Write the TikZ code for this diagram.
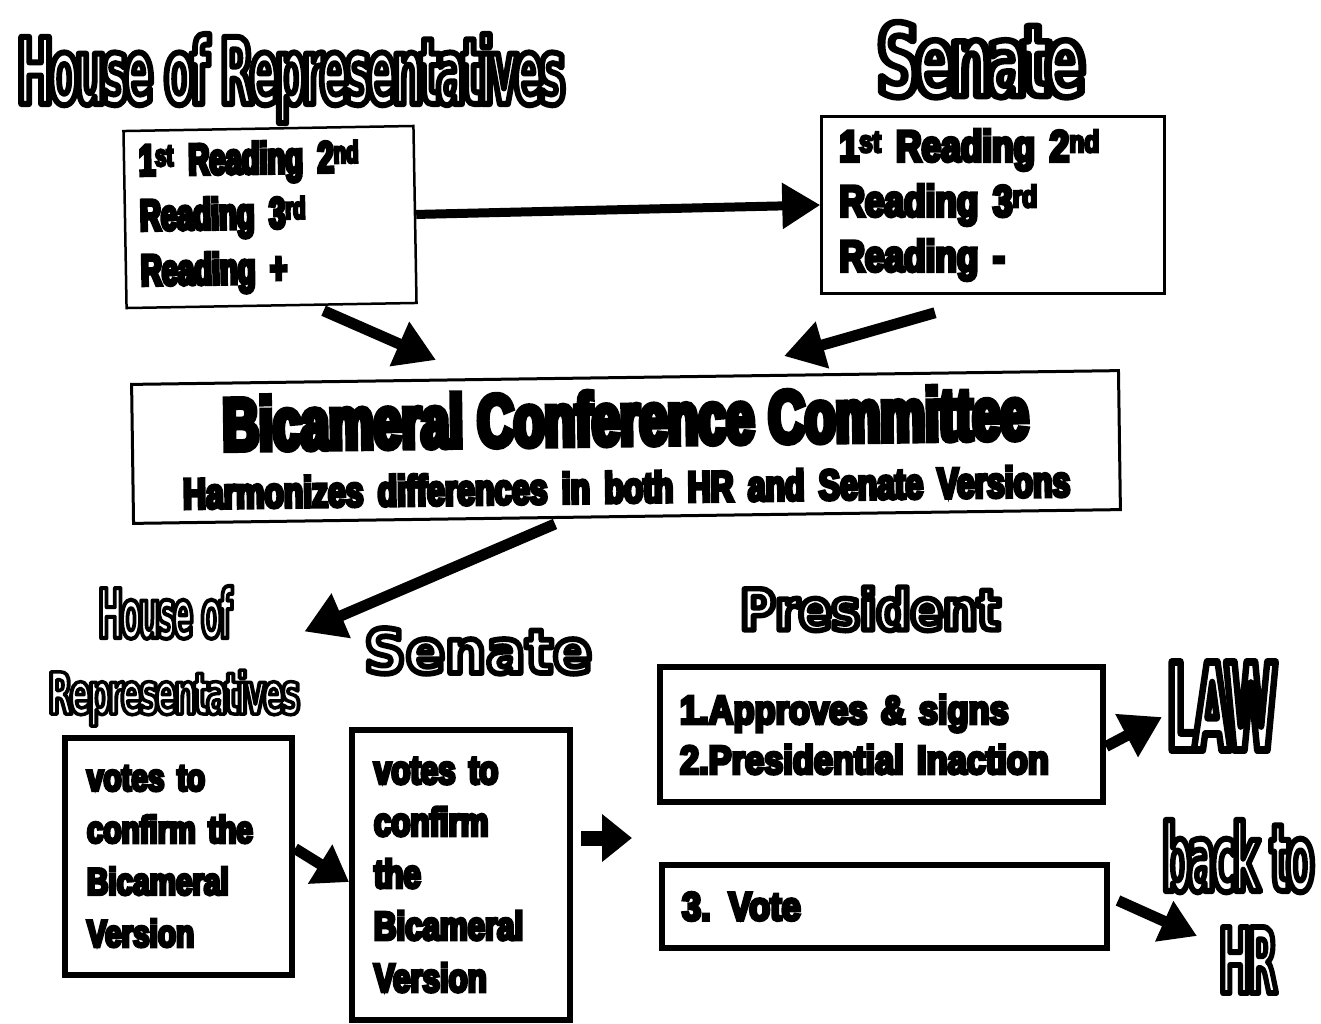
\documentclass[tikz,border=0pt]{standalone}
\usepackage{fontspec}
\setmainfont{Liberation Sans}
\usetikzlibrary{arrows.meta,calc}
\newfontfamily\fimp[FakeStretch=0.48,LetterSpace=-4,FakeBold=6.5]{DejaVu Sans}
\newfontfamily\fimpS[FakeStretch=0.48,LetterSpace=-4,FakeBold=6]{DejaVu Sans}
\newfontfamily\fpr[FakeStretch=0.75,FakeBold=9.5]{DejaVu Sans}
\newfontfamily\fwd[FakeBold=9.5]{DejaVu Sans}
\newfontfamily\ftop[FakeStretch=0.8,FakeBold=8]{Liberation Sans}
\newfontfamily\ftopB[FakeStretch=0.66,FakeBold=8]{Liberation Sans}
\newfontfamily\fbA[FakeStretch=0.68,FakeBold=8]{Liberation Sans}
\newfontfamily\fbB[FakeStretch=0.74,FakeBold=8]{Liberation Sans}
\newfontfamily\fbot[FakeStretch=0.78,FakeBold=8]{Liberation Sans}
\newfontfamily\fpres[FakeStretch=0.86,FakeBold=8]{Liberation Sans}
% outlined heading: width, height, natural size, text
\newcommand\outl[4]{\resizebox{#1}{#2}{\fontsize{#3}{#3}\selectfont\color{white}\special{pdf:literal direct 0 G 1 j}#4}}
\begin{document}
\begin{tikzpicture}[x=1pt,y=-1pt,
  every node/.style={inner sep=0pt},
  tbox/.style={draw, line width=2.5pt, fill=white, align=left, inner xsep=15pt},
  bbox/.style={draw, line width=6pt, fill=white, align=left, inner xsep=22pt},
  arr/.style={line width=11pt, -{Triangle[length=40pt,width=46pt]}},
  hd/.style={anchor=base west, inner sep=0pt},
]
\fill[white] (0,0) rectangle (1321,1023);
\useasboundingbox (0,0) rectangle (1321,1023);

% headings
\node[hd, font=\fimp\bfseries] (hrT) at (17,104) {\outl{548pt}{70pt}{96}{House of Representatives}};
\node[hd, font=\fimp\bfseries] (senT) at (877,96) {\outl{208pt}{74pt}{99}{Senate}};
\node[hd, font=\fimpS\bfseries] (hrA) at (98,638) {\outl{134pt}{52pt}{72}{House of}};
\node[hd, font=\fimpS\bfseries] (hrB) at (48,714) {\outl{252pt}{44pt}{60}{Representatives}};
\node[hd, font=\fwd\bfseries] (senB) at (364,673) {\outl{228pt}{45pt}{62}{Senate}};
\node[hd, font=\fpr\bfseries] (presT) at (740,630) {\outl{260pt}{43pt}{59}{President}};
\node[hd, font=\fimp\bfseries] (lawT) at (1167,750) {\outl{110pt}{88pt}{121}{LAW}};
\node[hd, font=\fimp\bfseries] (backT) at (1162,891) {\outl{152pt}{71pt}{94}{back to}};
\node[hd, font=\fimp\bfseries] (hrT2) at (1219,993) {\outl{58pt}{66pt}{91}{HR}};

% boxes
\node[tbox, rotate=1, minimum width=290pt, minimum height=177pt, text width=260pt,
  font={\ftopB\bfseries\fontsize{44}{55}\selectfont}] (hr1) at (270,217)
  {1\textsuperscript{st} Reading 2\textsuperscript{nd}\\Reading 3\textsuperscript{rd}\\Reading +};
\node[tbox, inner xsep=18pt, minimum width=343pt, minimum height=177pt, text width=307pt,
  font={\ftop\bfseries\fontsize{44}{55}\selectfont}] (sen1) at (993,205)
  {1\textsuperscript{st} Reading 2\textsuperscript{nd}\\Reading 3\textsuperscript{rd}\\Reading -};
\node[draw, line width=3pt, fill=white, rotate=0.8, minimum width=987pt, minimum height=139pt,
  text width=950pt, align=center, inner xsep=18pt,
  font={\fbB\bfseries\fontsize{43}{58}\selectfont}] (bcc) at (626,447)
  {{\fbA\bfseries\fontsize{74}{74}\selectfont Bicameral Conference Committee}\\
   Harmonizes differences in both HR and Senate Versions};
\node[bbox, minimum width=227pt, minimum height=237pt, text width=183pt,
  font={\fbot\bfseries\fontsize{38}{52}\selectfont}] (hr2) at (178.5,856.5)
  {votes to\\confirm the\\Bicameral\\Version};
\node[bbox, minimum width=218pt, minimum height=290pt, text width=174pt,
  font={\fbot\bfseries\fontsize{40}{52}\selectfont}] (sen2) at (461,875)
  {votes to\\confirm\\the\\Bicameral\\Version};
\node[bbox, inner xsep=20pt, minimum width=443pt, minimum height=135pt, text width=403pt,
  font={\fpres\bfseries\fontsize{40}{50}\selectfont}] (pres1) at (881.5,734.5)
  {1.Approves \& signs\\2.Presidential Inaction};
\node[bbox, inner xsep=20pt, minimum width=445pt, minimum height=83pt, text width=405pt,
  font={\fpres\bfseries\fontsize{40}{50}\selectfont}] (pres2) at (884.5,906.5)
  {3.\hspace{18pt}Vote};

% arrows
\draw[arr, line width=9pt, -{Triangle[length=38pt,width=44pt]}] (hr1.east) -- (sen1.west);
\draw[arr] ($(hr1.south)+(52,4)$) -- ($(bcc.north)+(-189,-16)$);
\draw[arr] ($(sen1.south)+(-58,18)$) -- ($(bcc.north)+(159,-20)$);
\draw[arr] ($(bcc.south)+(-72,6)$) -- ($(hrA.east)+(72,19)$);
\draw[arr, -{Triangle[length=34pt,width=44pt]}] ($(hr2.east)+(0,-8)$) -- ($(sen2.west)+(0,7)$);
\coordinate (a6end) at (632,838);
\draw[arr, line width=15pt, -{Triangle[length=30pt,width=46pt]}] ($(sen2.east)+(8,-37)$) -- (a6end);
\draw[arr] ($(pres1.east)+(0,12)$) -- ($(lawT.west)+(-5,11)$);
\draw[arr, -{Triangle[length=36pt,width=42pt]}] ($(pres2.east)+(8,-6)$) -- ($(hrT2.west)+(-22,-24)$);
\end{tikzpicture}
\end{document}
